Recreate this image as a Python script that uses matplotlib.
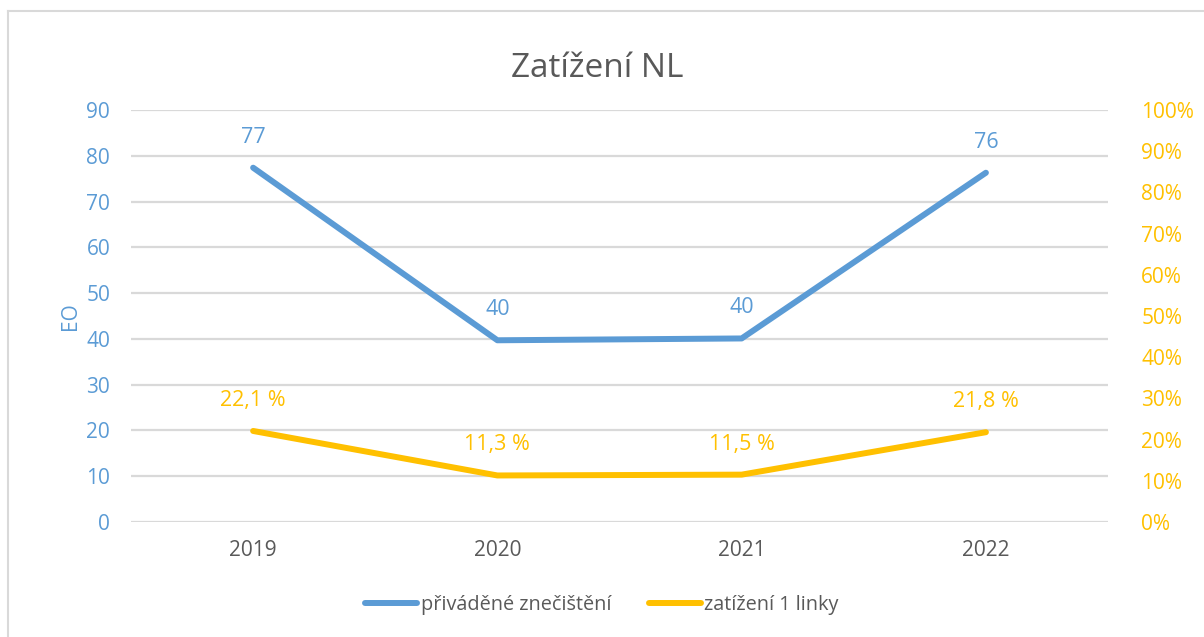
import matplotlib
matplotlib.use("Agg")
import matplotlib.pyplot as plt
from matplotlib.lines import Line2D
from matplotlib.ticker import FuncFormatter

# ---- data ----
years = ["2019", "2020", "2021", "2022"]
pollution = [77.4, 39.7, 40.1, 76.3]          # EO
pollution_labels = ["77", "40", "40", "76"]
line_load = [0.221, 0.113, 0.115, 0.218]       # share
line_load_labels = ["22,1 %", "11,3 %", "11,5 %", "21,8 %"]

BLUE = "#5B9BD5"
YELLOW = "#FFC000"
GREY = "#595959"
GRID = "#D9D9D9"

plt.rcParams['font.family'] = ['Open Sans', 'DejaVu Sans']

fig = plt.figure(figsize=(12.04, 6.37), dpi=100)
ax = fig.add_axes([0.1088, 0.1805, 0.8115, 0.6468])
ax2 = ax.twinx()

x = list(range(len(years)))

# left axis
ax.plot(x, pollution, color=BLUE, lw=4.3, solid_capstyle='round', zorder=3)
ax.set_ylim(0, 90)
ax.set_yticks(range(0, 91, 10))
ax.set_xlim(-0.5, 3.5)
ax.set_xticks(x)
ax.set_xticklabels(years)
ax.grid(axis='y', color=GRID, lw=1.6)
ax.set_axisbelow(True)
for s in ax.spines.values():
    s.set_visible(False)
ax.tick_params(axis='y', length=0, pad=15, labelsize=15, labelcolor=BLUE)
ax.tick_params(axis='x', length=0, pad=13, labelsize=15, labelcolor=GREY)
ax.set_ylabel("EO", color=BLUE, fontsize=15, labelpad=4)

for xi, yi, lab in zip(x, pollution, pollution_labels):
    ax.annotate(lab, (xi, yi), xytext=(0, 22), textcoords='offset points',
                ha='center', va='center', color=BLUE, fontsize=15.5)

# right axis
ax2.plot(x, line_load, color=YELLOW, lw=4.3, solid_capstyle='round', zorder=3)
ax2.set_ylim(0, 1)
ax2.set_yticks([i / 10 for i in range(11)])
ax2.yaxis.set_major_formatter(FuncFormatter(lambda v, p: f"{round(v * 100)}%"))
for s in ax2.spines.values():
    s.set_visible(False)
ax2.tick_params(axis='y', length=0, pad=24, labelsize=15, labelcolor=YELLOW)

for xi, yi, lab in zip(x, line_load, line_load_labels):
    ax2.annotate(lab, (xi, yi), xytext=(0, 22), textcoords='offset points',
                 ha='center', va='center', color=YELLOW, fontsize=15.5)

fig.text(0.496, 0.893, "Zatížení NL", ha='center', va='center', fontsize=24, color=GREY)

handles = [Line2D([0], [0], color=BLUE, lw=4.3, solid_capstyle='round'),
           Line2D([0], [0], color=YELLOW, lw=4.3, solid_capstyle='round')]
fig.legend(handles, ["přiváděné znečištění", "zatížení 1 linky"],
           loc='center', bbox_to_anchor=(0.5, 0.05), ncol=2, frameon=False,
           fontsize=14.3, labelcolor=GREY, handlelength=2.6, handletextpad=0.2,
           columnspacing=1.9)

# chart border (left and top only visible)
fig.add_artist(Line2D([0.0066, 0.0066], [0.0, 0.983], color=GRID, lw=1.5, transform=fig.transFigure))
fig.add_artist(Line2D([0.0066, 1.0], [0.983, 0.983], color=GRID, lw=1.5, transform=fig.transFigure))

fig.savefig("out.png", dpi=100)
